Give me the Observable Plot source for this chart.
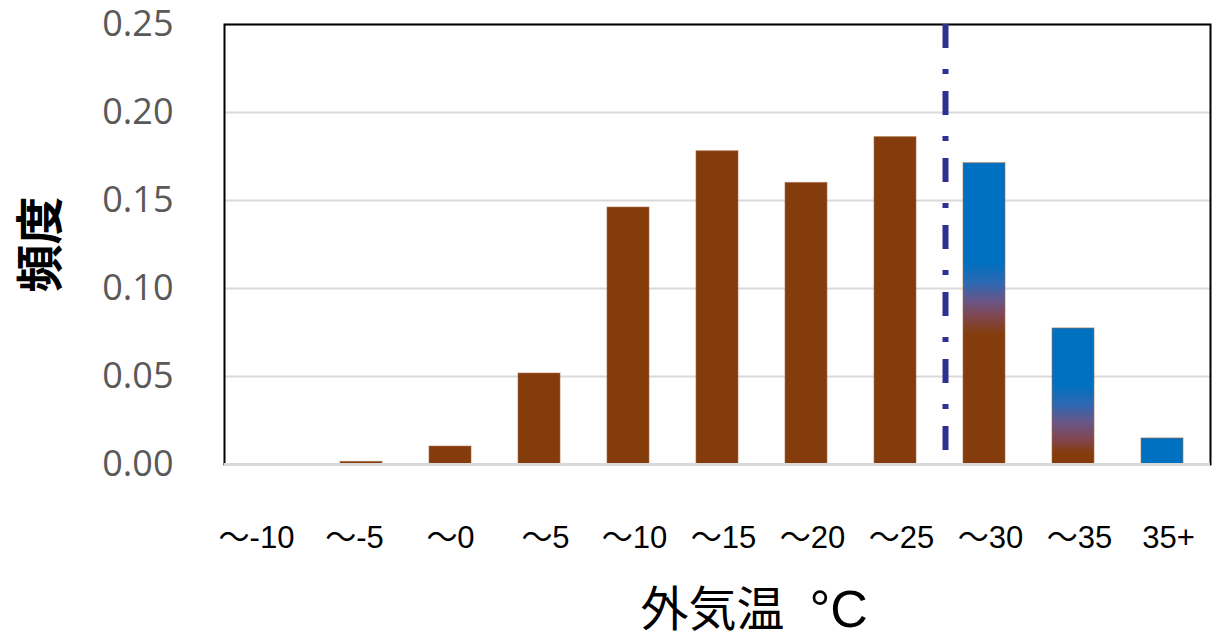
<!DOCTYPE html>
<html>
<head>
<meta charset="utf-8">
<script src="https://cdn.jsdelivr.net/npm/d3@7"></script>
<script src="https://cdn.jsdelivr.net/npm/@observablehq/plot@0.6"></script>
<style>
  html, body { margin: 0; padding: 0; background: #fff; }
  #chart { width: 1216px; height: 638px; }
</style>
</head>
<body>
<div id="chart"></div>
<script>
// ---- data ----
const categories = ["～-10", "～-5", "～0", "～5", "～10", "～15", "～20", "～25", "～30", "～35", "35+"];
const frequency = [0, 0.0015, 0.0102, 0.0517, 0.146, 0.178, 0.160, 0.186, 0.1712, 0.0773, 0.0148];
const yTicks = [0, 0.05, 0.10, 0.15, 0.20, 0.25];
const thresholdCategory = "～30";
const xTitleMain = "外気温";
const xTitleUnit = "°C";
const yTitle = "頻度";

// ---- styles ----
const BROWN = "#843C0C";
const BLUE = "#0070C0";
const gradients = {
  "～30": {id: "grad30", stops: [[0, BLUE], [0.33, BLUE], [0.40, "#2d68b2"], [0.46, "#6a5585"], [0.51, "#80464f"], [0.57, BROWN], [1, BROWN]]},
  "～35": {id: "grad35", stops: [[0, BLUE], [0.42, BLUE], [0.56, "#2d68b2"], [0.70, "#6a5585"], [0.82, "#80464f"], [0.92, BROWN], [1, BROWN]]}
};
const solidBlue = new Set(["35+"]);
// label nudges (pixels) to mimic the original label placement
const labelShift = {"～-10": -16, "～-5": -7, "～0": 0};

const data = categories.map((c, i) => ({category: c, value: frequency[i]}));

function fillFor(d) {
  if (gradients[d.category]) return `url(#${gradients[d.category].id})`;
  if (solidBlue.has(d.category)) return BLUE;
  return BROWN;
}

function defsMark() {
  const defs = d3.create("svg:defs");
  for (const key of Object.keys(gradients)) {
    const g = gradients[key];
    const lg = defs.append("linearGradient")
      .attr("id", g.id).attr("x1", 0).attr("y1", 0).attr("x2", 0).attr("y2", 1);
    for (const [o, c] of g.stops) lg.append("stop").attr("offset", o).attr("stop-color", c);
  }
  return defs.node();
}

const latinFont = "'Liberation Sans', Arial, 'Noto Sans CJK JP', sans-serif";
const xAxisStyle = {tickSize: 0, tickPadding: 61, fontSize: 31, fontFamily: latinFont, color: "black", label: null};

const xAxisMarks = [];
const defaultShift = 6;
const groups = d3.group(categories, (c) => (c in labelShift ? labelShift[c] : defaultShift));
for (const [shift, cats] of groups) {
  xAxisMarks.push(Plot.axisX({...xAxisStyle, ticks: cats, dx: shift}));
}

const chart = Plot.plot({
  width: 1216,
  height: 638,
  marginLeft: 224,
  marginRight: 6,
  marginTop: 24,
  marginBottom: 174,
  style: {background: "white", overflow: "visible"},
  x: {domain: categories, paddingInner: 0.53, paddingOuter: 0.265},
  y: {domain: [0, 0.25]},
  color: {type: "identity"},
  marks: [
    defsMark,
    Plot.gridY(yTicks, {stroke: "#d9d9d9", strokeOpacity: 1, strokeWidth: 2}),
    Plot.barY(data, {x: "category", y: "value", fill: fillFor, stroke: "#a86a45", strokeWidth: 1, strokeOpacity: 0.6}),
    Plot.frame({stroke: "black", strokeWidth: 2}),
    Plot.ruleY([0], {stroke: "#d9d9d9", strokeWidth: 3}),
    Plot.ruleX([thresholdCategory], {y1: 0.25, y2: 0, dx: -39, stroke: "#2E3192", strokeWidth: 6, strokeDasharray: "24,21,5,17"}),
    Plot.axisY({ticks: yTicks, tickFormat: d3.format(".2f"), tickSize: 0, tickPadding: 51,
      fontSize: 36, fontFamily: "'Open Sans', 'Noto Sans', sans-serif", color: "#595959", label: null}),
    ...xAxisMarks,
    Plot.text([xTitleMain], {frameAnchor: "bottom", dy: 146, dx: -5, lineAnchor: "middle", textAnchor: "middle", fontSize: 48,
      fontFamily: "'Noto Sans CJK JP', sans-serif", fill: "black"}),
    Plot.text([xTitleUnit], {frameAnchor: "bottom", dy: 146, dx: 92, lineAnchor: "middle", textAnchor: "start", fontSize: 52,
      fontFamily: latinFont, fill: "black"}),
    Plot.text([yTitle], {frameAnchor: "left", dx: -183, rotate: -90, lineAnchor: "middle", textAnchor: "middle", fontSize: 48, fontWeight: "bold",
      fontFamily: "'Noto Sans CJK JP', sans-serif", fill: "black"})
  ]
});
document.getElementById("chart").appendChild(chart);
</script>
</body>
</html>
